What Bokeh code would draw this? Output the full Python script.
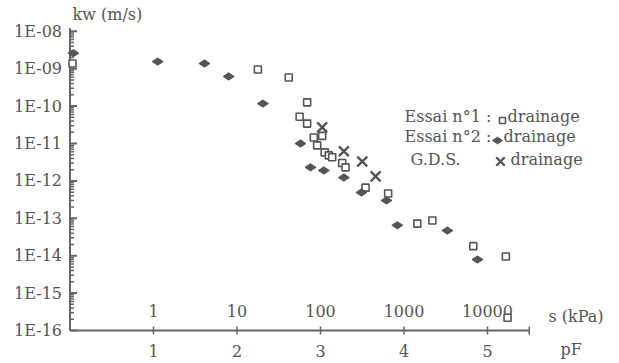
from bokeh.plotting import figure
from bokeh.core.properties import value
from bokeh.embed import file_html
from bokeh.resources import INLINE
import math

# ---- data (pF, kw in m/s) ----
pf_essai1 = [0.03, 2.25, 2.62, 2.84, 2.75, 2.84, 2.92, 3.02, 2.96, 3.05, 3.10, 3.14,
             3.26, 3.30, 3.54, 3.81, 4.16, 4.34, 4.83, 5.22, 5.24]
kw_essai1 = [1.38e-9, 9.5e-10, 5.8e-10, 1.26e-10, 5.2e-11, 3.4e-11, 1.45e-11, 1.6e-11,
             8.9e-12, 5.8e-12, 4.8e-12, 4.3e-12, 3.0e-12, 2.3e-12, 6.6e-13, 4.6e-13,
             7.2e-14, 8.7e-14, 1.8e-14, 9.5e-15, 2.2e-16]

pf_essai2 = [0.04, 1.05, 1.61, 1.90, 2.31, 2.76, 2.88, 3.04, 3.28, 3.49, 3.79, 3.92, 4.52, 4.88]
kw_essai2 = [2.6e-9, 1.55e-9, 1.38e-9, 6.2e-10, 1.17e-10, 1.0e-11, 2.3e-12, 1.9e-12,
             1.23e-12, 4.9e-13, 3.0e-13, 6.5e-14, 4.7e-14, 7.9e-15]

pf_gds = [3.02, 3.28, 3.50, 3.66]
kw_gds = [2.7e-11, 6.2e-12, 3.3e-12, 1.32e-12]

pf_ticks = [1, 2, 3, 4, 5]
pf_labels = ["1", "2", "3", "4", "5"]
s_kpa_labels = ["1", "10", "100", "1000", "10000"]
kw_ticks = [1e-16, 1e-15, 1e-14, 1e-13, 1e-12, 1e-11, 1e-10, 1e-09, 1e-08]
kw_labels = ["1E-16", "1E-15", "1E-14", "1E-13", "1E-12", "1E-11", "1E-10", "1E-09", "1E-08"]
pf_max = 5.5

GRAY = "#555555"
AXIS = "#666666"
FONT = "DejaVu Serif"

W, H = 619, 363
X0, SX = 69.5, 83.5          # pixel of pF=0, pixels per pF unit
Y0, SY = 330.0, 37.4         # pixel of kw=1e-16, pixels per decade


def X(px):
    return (px - X0) / SX


def Y(py):
    return 10 ** (-16 + (Y0 - py) / SY)


p = figure(width=W, height=H, x_range=(X(0), X(W)), y_range=(Y(H), Y(0)),
           y_axis_type="log", x_axis_location=None, y_axis_location=None,
           output_backend="svg", toolbar_location=None, min_border=0)
p.grid.visible = False
p.outline_line_color = None
p.background_fill_color = "white"

ybase = kw_ticks[0]
ytop = kw_ticks[-1]

# ---- y axis (log) ----
p.segment(x0=[0], y0=[ybase], x1=[0], y1=[ytop * 10 ** (3 / SY)],
          line_color=AXIS, line_width=2)
p.segment(x0=[0] * len(kw_ticks), y0=kw_ticks, x1=[7 / SX] * len(kw_ticks), y1=kw_ticks,
          line_color=AXIS, line_width=2)
minors = [m * 10.0 ** k for k in range(-16, -8) for m in range(2, 10)]
p.segment(x0=[0] * len(minors), y0=minors, x1=[4 / SX] * len(minors), y1=minors,
          line_color=AXIS, line_width=1.5)
p.text(x=[-8 / SX] * len(kw_ticks), y=kw_ticks, text=kw_labels, text_align="right",
       text_baseline="middle", text_font=value(FONT), text_font_size="16px",
       text_color=GRAY)

# ---- x axis (pF) ----
p.segment(x0=[0], y0=[ybase], x1=[pf_max], y1=[ybase], line_color=AXIS, line_width=2)
xt = pf_ticks + [pf_max]
p.segment(x0=xt, y0=[ybase * 10 ** (-4 / SY)] * len(xt), x1=xt,
          y1=[ybase * 10 ** (4 / SY)] * len(xt), line_color=AXIS, line_width=1.5)
p.text(x=pf_ticks, y=[ybase * 10 ** (-20 / SY)] * len(pf_ticks), text=pf_labels,
       text_align="center", text_baseline="middle", text_font=value(FONT),
       text_font_size="16px", text_color=GRAY)
# secondary scale s (kPa)
p.text(x=pf_ticks, y=[ybase * 10 ** (20 / SY)] * len(pf_ticks), text=s_kpa_labels,
       text_align="center", text_baseline="middle", text_font=value(FONT),
       text_font_size="16px", text_color=GRAY)


def lab(px, py, text, align="left", size="16px"):
    p.text(x=[X(px)], y=[Y(py)], text=[text], text_align=align, text_baseline="middle",
           text_font=value(FONT), text_font_size=size, text_color=GRAY)


lab(548, 316, "s (kPa)")
lab(560, 349, "pF")
lab(72, 14, "kw (m/s)")

# ---- data markers ----
p.scatter(pf_essai1, kw_essai1, marker="square", size=7, line_color=GRAY,
          line_width=1.6, fill_color="white")
p.scatter(pf_essai2, kw_essai2, marker="diamond", size=11, angle=math.pi / 2,
          line_color=GRAY, fill_color=GRAY, line_width=1)
p.scatter(pf_gds, kw_gds, marker="x", size=14, line_color=GRAY, line_width=2.4)

# ---- legend ----
lab(404, 116, "Essai n°1 :")
lab(507, 116, "drainage")
lab(404, 136, "Essai n°2 :")
lab(503, 136, "drainage")
lab(410, 159, "G.D.S.")
lab(510, 159, "drainage")
p.scatter([X(502)], [Y(120)], marker="square", size=6, line_color=GRAY,
          line_width=1.6, fill_color="white")
p.scatter([X(497)], [Y(140)], marker="diamond", size=10, angle=math.pi / 2,
          line_color=GRAY, fill_color=GRAY)
p.scatter([X(500)], [Y(161)], marker="x", size=12, line_color=GRAY, line_width=2.4)

open("out.html", "w").write(file_html(p, INLINE))
